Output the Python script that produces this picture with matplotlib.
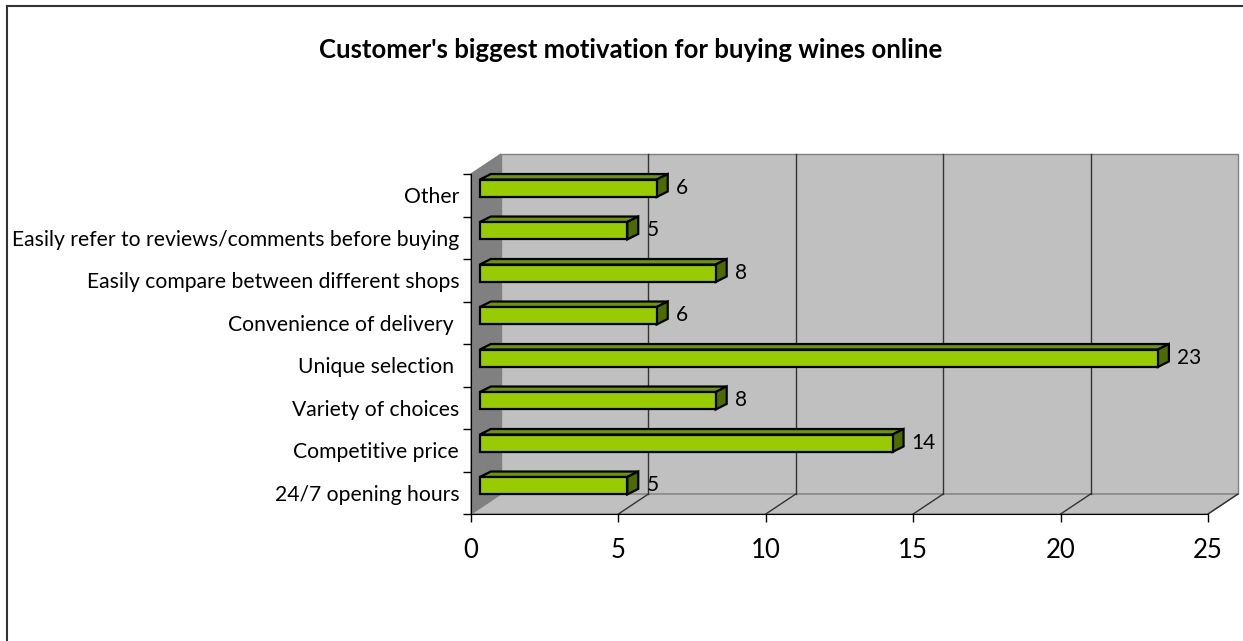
import matplotlib
matplotlib.use("Agg")
import matplotlib.pyplot as plt
from matplotlib.patches import Polygon, Rectangle
from matplotlib.lines import Line2D

# ---- data ----
categories = ["24/7 opening hours", "Competitive price", "Variety of choices",
              "Unique selection ", "Convenience of delivery ",
              "Easily compare between different shops",
              "Easily refer to reviews/comments before buying", "Other"]
values = [5, 14, 8, 23, 6, 8, 5, 6]
xticks = [0, 5, 10, 15, 20, 25]
title = "Customer's biggest motivation for buying wines online"

# ---- style ----
plt.rcParams['font.family'] = ['Lato', 'DejaVu Sans']
W, H, DPI = 1243, 641, 100
fig = plt.figure(figsize=(W / DPI, H / DPI), dpi=DPI)
fig.patch.set_facecolor("white")

x0px, x1px = 471, 1208
ytop, ybot = 174, 514
ax = fig.add_axes([x0px / W, (H - ybot) / H, (x1px - x0px) / W, (ybot - ytop) / H])
n = len(categories)
ax.set_xlim(0, 25)
ax.set_ylim(0, n)
ax.patch.set_alpha(0)

# depth offsets of the walls in data units
pxu_x = (x1px - x0px) / 25.0
pxu_y = (ybot - ytop) / n
ddx = 30 / pxu_x
ddy = 20 / pxu_y

wall_c = "#C0C0C0"
side_c = "#808080"
grid_c = "#333333"

# back wall
ax.add_patch(Rectangle((ddx, ddy), 25, n, facecolor=wall_c, edgecolor="#808080",
                       lw=1, zorder=0, clip_on=False))
# left wall
ax.add_patch(Polygon([(0, 0), (0, n), (ddx, n + ddy), (ddx, ddy)], closed=True,
                     facecolor=side_c, edgecolor="#808080", lw=1, zorder=0.5, clip_on=False))
# floor
ax.add_patch(Polygon([(0, 0), (25, 0), (25 + ddx, ddy), (ddx, ddy)], closed=True,
                     facecolor=wall_c, edgecolor="#808080", lw=1, zorder=0.6, clip_on=False))
# gridlines on back wall and floor
for t in xticks[1:-1]:
    ax.add_line(Line2D([t + ddx, t + ddx], [ddy, n + ddy], color=grid_c, lw=1,
                       zorder=0.7, clip_on=False))
for t in xticks[1:]:
    ax.add_line(Line2D([t, t + ddx], [0, ddy], color=grid_c, lw=1, zorder=0.7, clip_on=False))

# bars (pseudo-3D)
bx0 = 0.3
bdx = 11 / pxu_x
bdy = 5.5 / pxu_y
b_lo, b_hi = 0.46, 0.87
front_c = "#99CC00"
top_c = "#6F9600"
rside_c = "#4D6B00"
for i, v in enumerate(values):
    y0, y1 = i + b_lo, i + b_hi
    ax.add_patch(Polygon([(bx0, y1), (bx0 + v, y1), (bx0 + v + bdx, y1 + bdy), (bx0 + bdx, y1 + bdy)],
                         closed=True, facecolor=top_c, edgecolor="black", lw=1.6, zorder=3,
                         clip_on=False, joinstyle="miter"))
    ax.add_patch(Polygon([(bx0 + v, y0), (bx0 + v + bdx, y0 + bdy), (bx0 + v + bdx, y1 + bdy), (bx0 + v, y1)],
                         closed=True, facecolor=rside_c, edgecolor="black", lw=1.6, zorder=3,
                         clip_on=False, joinstyle="miter"))
    ax.add_patch(Rectangle((bx0, y0), v, y1 - y0, facecolor=front_c, edgecolor="black",
                           lw=1.6, zorder=3.1, clip_on=False, joinstyle="miter"))
    ax.text(v + 0.95, i + 0.68, str(v), fontsize=15, va="center", ha="left", zorder=4)

# axes spines/ticks
for s in ["top", "right"]:
    ax.spines[s].set_visible(False)
ax.spines["left"].set_color("black")
ax.spines["bottom"].set_color("black")
ax.spines["left"].set_zorder(2)
ax.spines["bottom"].set_zorder(2)

ax.set_xticks(xticks)
ax.set_xticklabels([str(t) for t in xticks], fontsize=18.5)
ax.tick_params(axis="x", direction="out", length=6, width=1, pad=11)

ax.set_yticks([i + 0.5 for i in range(n)])
ax.set_yticklabels(categories, fontsize=15.2)
ax.set_yticks(range(n + 1), minor=True)
ax.tick_params(axis="y", which="major", length=0, pad=8.5)
ax.tick_params(axis="y", which="minor", direction="out", length=6, width=1)

fig.text(631 / W, 1 - 50 / H, title, ha="center", va="center", fontsize=18.5, fontweight="bold")

# chart border (left and top visible)
fig.add_artist(Line2D([6.5 / W, 6.5 / W], [0, 1 - 5.5 / H], color="#333333", lw=1.5,
                      transform=fig.transFigure))
fig.add_artist(Line2D([6.5 / W, 1], [1 - 5.5 / H, 1 - 5.5 / H], color="#333333", lw=1.5,
                      transform=fig.transFigure))

fig.savefig("out.png", dpi=DPI)
